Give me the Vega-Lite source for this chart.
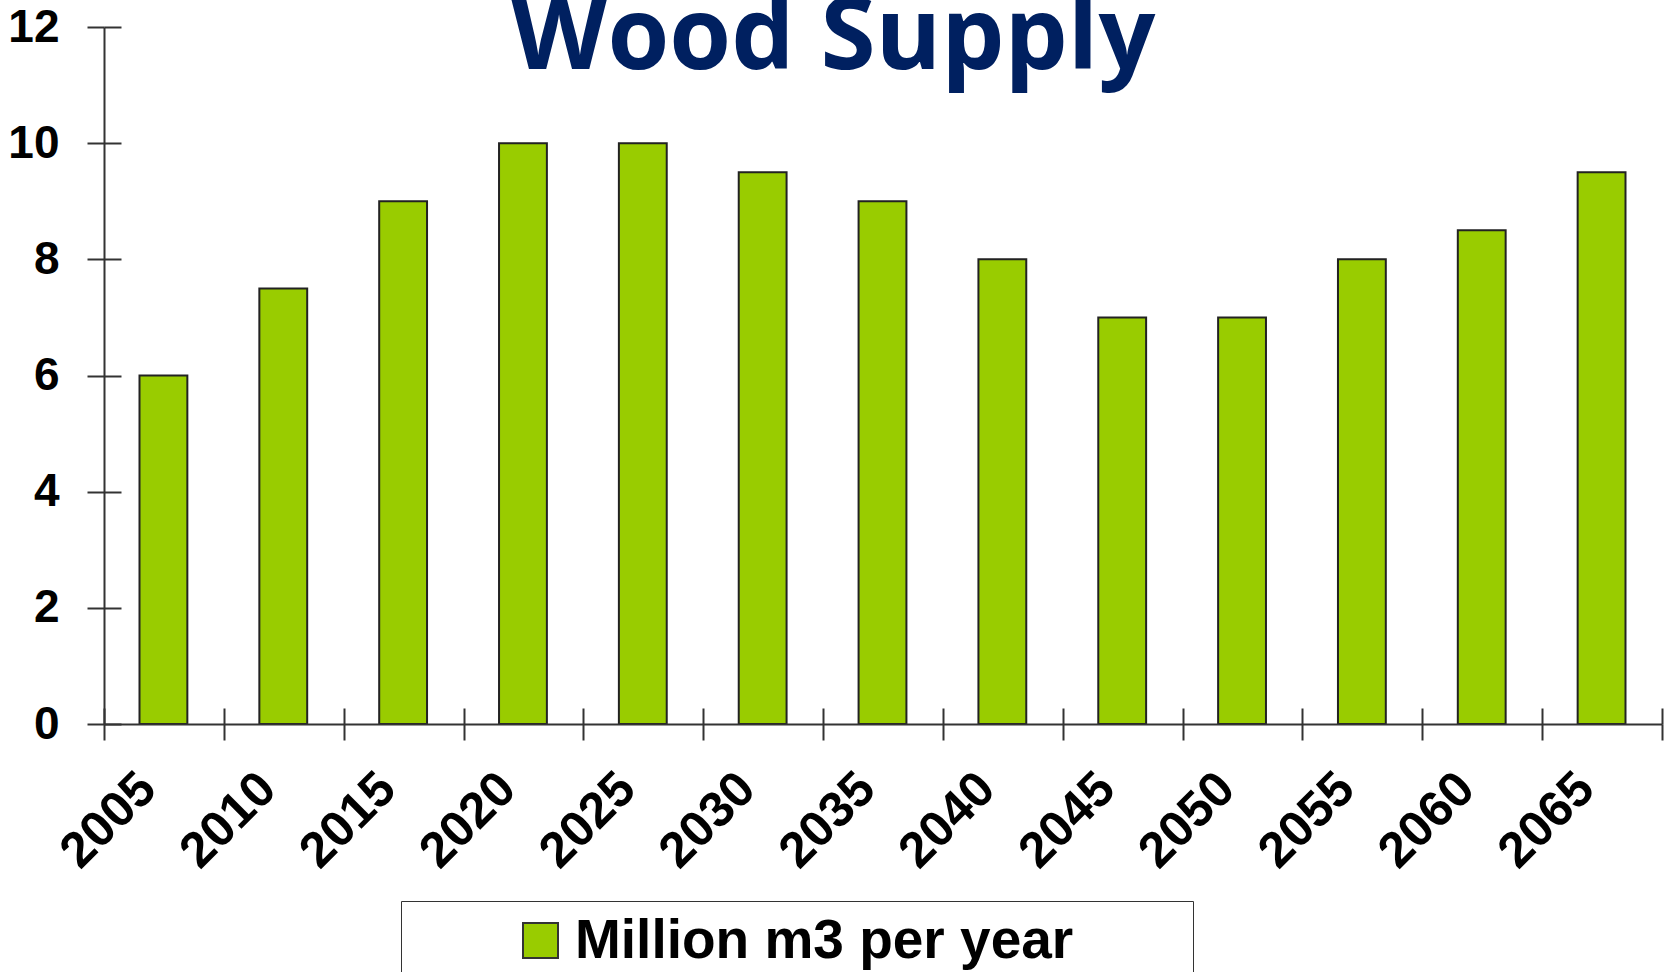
{
  "$schema": "https://vega.github.io/schema/vega-lite/v6.json",
  "autosize": {"type": "none"},
  "padding": {"left": 104, "top": 27, "right": 9, "bottom": 248},
  "width": 1558,
  "height": 697,
  "background": "white",
  "config": {"view": {"stroke": null}},
  "title": {
    "text": "Wood Supply",
    "font": "Open Sans",
    "fontSize": 100,
    "fontWeight": "bold",
    "color": "#002060",
    "anchor": "middle",
    "frame": "group",
    "offset": -165,
    "baseline": "alphabetic",
    "dx": -50
  },
  "data": {
    "values": [
      {"year": 2005, "value": 6, "series": "Million m3 per year"},
      {"year": 2010, "value": 7.5, "series": "Million m3 per year"},
      {"year": 2015, "value": 9, "series": "Million m3 per year"},
      {"year": 2020, "value": 10, "series": "Million m3 per year"},
      {"year": 2025, "value": 10, "series": "Million m3 per year"},
      {"year": 2030, "value": 9.5, "series": "Million m3 per year"},
      {"year": 2035, "value": 9, "series": "Million m3 per year"},
      {"year": 2040, "value": 8, "series": "Million m3 per year"},
      {"year": 2045, "value": 7, "series": "Million m3 per year"},
      {"year": 2050, "value": 7, "series": "Million m3 per year"},
      {"year": 2055, "value": 8, "series": "Million m3 per year"},
      {"year": 2060, "value": 8.5, "series": "Million m3 per year"},
      {"year": 2065, "value": 9.5, "series": "Million m3 per year"}
    ]
  },
  "resolve": {"axis": {"x": "independent", "y": "independent"}},
  "layer": [
    {
      "mark": {"type": "bar", "stroke": "#222222", "strokeWidth": 2, "binSpacing": 74, "x2Offset": -2},
      "encoding": {
        "x": {
          "field": "year",
          "type": "quantitative",
          "bin": {"step": 5, "extent": [2005, 2070]},
          "scale": {"domain": [2005, 2070], "nice": false, "zero": false},
          "axis": {
            "orient": "bottom",
            "title": null,
            "zindex": 1,
            "values": [2005, 2010, 2015, 2020, 2025, 2030, 2035, 2040, 2045, 2050, 2055, 2060, 2065, 2070],
            "format": "d",
            "labelExpr": "datum.value >= 2070 ? '' : datum.label",
            "labelAngle": -45,
            "labelAlign": "right",
            "labelBaseline": "top",
            "labelOffset": 26,
            "labelPadding": 23,
            "labelFont": "Liberation Sans",
            "labelFontWeight": "bold",
            "labelFontSize": 50,
            "labelColor": "#000000",
            "labelOverlap": false,
            "labelFlush": false,
            "tickSize": 16,
            "tickWidth": 2,
            "tickColor": "#333333",
            "domainWidth": 2,
            "domainColor": "#333333",
            "grid": false
          }
        },
        "y": {
          "field": "value",
          "type": "quantitative",
          "scale": {"domain": [0, 12], "nice": false},
          "axis": {
            "orient": "left",
            "title": null,
            "zindex": 1,
            "values": [0, 2, 4, 6, 8, 10, 12],
            "labelFont": "Liberation Sans",
            "labelFontWeight": "bold",
            "labelFontSize": 46,
            "labelColor": "#000000",
            "labelPadding": 28,
            "labelFlush": false,
            "labelOverlap": false,
            "tickSize": 17,
            "tickWidth": 2,
            "tickColor": "#333333",
            "domainWidth": 2,
            "domainColor": "#333333",
            "grid": false
          }
        },
        "fill": {
          "field": "series",
          "type": "nominal",
          "scale": {"range": ["#99CC00"]},
          "legend": {
            "orient": "none",
            "legendX": 297,
            "legendY": 874,
            "title": null,
            "padding": 12,
            "strokeColor": "#333333",
            "symbolType": "square",
            "symbolSize": 1225,
            "symbolOffset": 100,
            "symbolStrokeColor": "#333333",
            "symbolStrokeWidth": 2,
            "labelOffset": 7,
            "labelFont": "Liberation Sans",
            "labelFontWeight": "bold",
            "labelFontSize": 55,
            "labelColor": "#000000",
            "labelLimit": 2000,
            "labelExpr": "datum.label + '\u2002\u2800\u2800'"
          }
        }
      }
    },
    {
      "mark": {"type": "bar", "opacity": 0, "binSpacing": 0},
      "encoding": {
        "x": {
          "field": "year",
          "type": "quantitative",
          "bin": {"step": 5, "extent": [2005, 2070]},
          "axis": {
            "orient": "bottom",
            "title": null,
            "zindex": 1,
            "values": [2005, 2010, 2015, 2020, 2025, 2030, 2035, 2040, 2045, 2050, 2055, 2060, 2065, 2070],
            "labels": false,
            "domain": false,
            "tickSize": -16,
            "tickWidth": 2,
            "tickColor": "#333333",
            "grid": false
          }
        },
        "y": {
          "field": "value",
          "type": "quantitative",
          "axis": {
            "orient": "left",
            "title": null,
            "zindex": 1,
            "values": [0, 2, 4, 6, 8, 10, 12],
            "labels": false,
            "domain": false,
            "tickSize": -17,
            "tickWidth": 2,
            "tickColor": "#333333",
            "grid": false
          }
        }
      }
    }
  ]
}
